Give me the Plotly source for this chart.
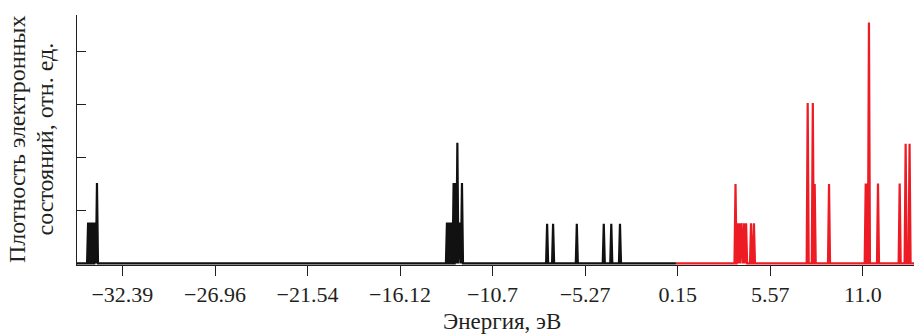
import plotly.graph_objects as go

# Occupied states (black): peak energies (eV) and heights (rel. units)
occ_energy = [-34.40, -34.30, -34.20, -34.10, -34.00, -33.88,
              -13.37, -13.27, -13.17, -13.07, -12.98, -12.88, -12.76, -12.64, -12.49,
              -7.50, -7.15, -5.76, -4.18, -3.74, -3.23]
occ_height = [0.77, 0.77, 0.77, 0.77, 0.77, 1.52,
              0.77, 0.77, 0.77, 0.77, 1.52, 1.52, 2.28, 0.77, 1.52,
              0.75, 0.75, 0.75, 0.75, 0.75, 0.75]

# Unoccupied states (red)
vir_energy = [3.54, 3.63, 3.75, 3.88, 4.03, 4.16, 4.45, 4.62,
              7.77, 8.07, 8.18, 9.02,
              11.17, 11.27, 11.36, 11.89, 13.16, 13.51, 13.74]
vir_height = [1.50, 0.76, 0.76, 0.76, 0.76, 0.76, 0.76, 0.76,
              3.03, 3.03, 1.50, 1.50,
              1.51, 1.51, 4.55, 1.51, 1.51, 2.26, 2.26]

tick_vals = [-32.39, -26.96, -21.54, -16.12, -10.7, -5.27, 0.15, 5.57, 11.0]
tick_text = ["\u221232.39", "\u221226.96", "\u221221.54", "\u221216.12", "\u221210.7",
             "\u22125.27", "0.15", "5.57", "11.0"]

x_min, x_split, x_max = -35.05, 0.05, 14.0
half_w = 0.06


def spectrum(energies, heights, start, end):
    xs, ys = [start], [0.0]
    for e, h in sorted(zip(energies, heights)):
        xs += [e - half_w, e, e + half_w]
        ys += [0.0, h, 0.0]
    xs.append(end)
    ys.append(0.0)
    return xs, ys


bx, by = spectrum(occ_energy, occ_height, x_min, x_split)
rx, ry = spectrum(vir_energy, vir_height, x_split, x_max)

fig = go.Figure()
fig.add_trace(go.Scatter(x=bx, y=by, mode="lines",
                         line=dict(color="#111111", width=2.2), hoverinfo="skip"))
fig.add_trace(go.Scatter(x=rx, y=ry, mode="lines",
                         line=dict(color="#ed1c24", width=2.2), hoverinfo="skip"))

serif = "Liberation Serif"
ink = "#231f20"
fig.update_layout(
    width=918, height=335,
    margin=dict(l=77, r=4, t=15, b=70),
    paper_bgcolor="white", plot_bgcolor="white",
    showlegend=False,
    font=dict(family=serif, size=22, color=ink),
    xaxis=dict(range=[x_min, x_max], tickvals=tick_vals, ticktext=tick_text,
               ticks="outside", ticklen=10, tickcolor=ink, tickwidth=1,
               showline=True, linecolor=ink, linewidth=1,
               showgrid=False, zeroline=False,
               tickfont=dict(family=serif, size=22, color=ink)),
    yaxis=dict(range=[-0.03, 4.69], tickvals=[1, 2, 3, 4],
               ticks="inside", ticklen=9, tickcolor=ink, tickwidth=1,
               showticklabels=False,
               showline=True, linecolor=ink, linewidth=1,
               showgrid=False, zeroline=False),
    annotations=[
        dict(text="Энергия, эВ", xref="paper", yref="paper", x=0.508, y=-0.226,
             xanchor="center", yanchor="middle", showarrow=False,
             font=dict(family=serif, size=23, color=ink)),
        dict(text="Плотность электронных", xref="paper", yref="paper",
             x=-0.0717, y=0.504, xanchor="center", yanchor="middle",
             textangle=-90, showarrow=False,
             font=dict(family=serif, size=24, color=ink)),
        dict(text="состояний, отн. ед.", xref="paper", yref="paper",
             x=-0.0388, y=0.504, xanchor="center", yanchor="middle",
             textangle=-90, showarrow=False,
             font=dict(family=serif, size=24, color=ink)),
    ],
)

fig.write_html("out.html")
